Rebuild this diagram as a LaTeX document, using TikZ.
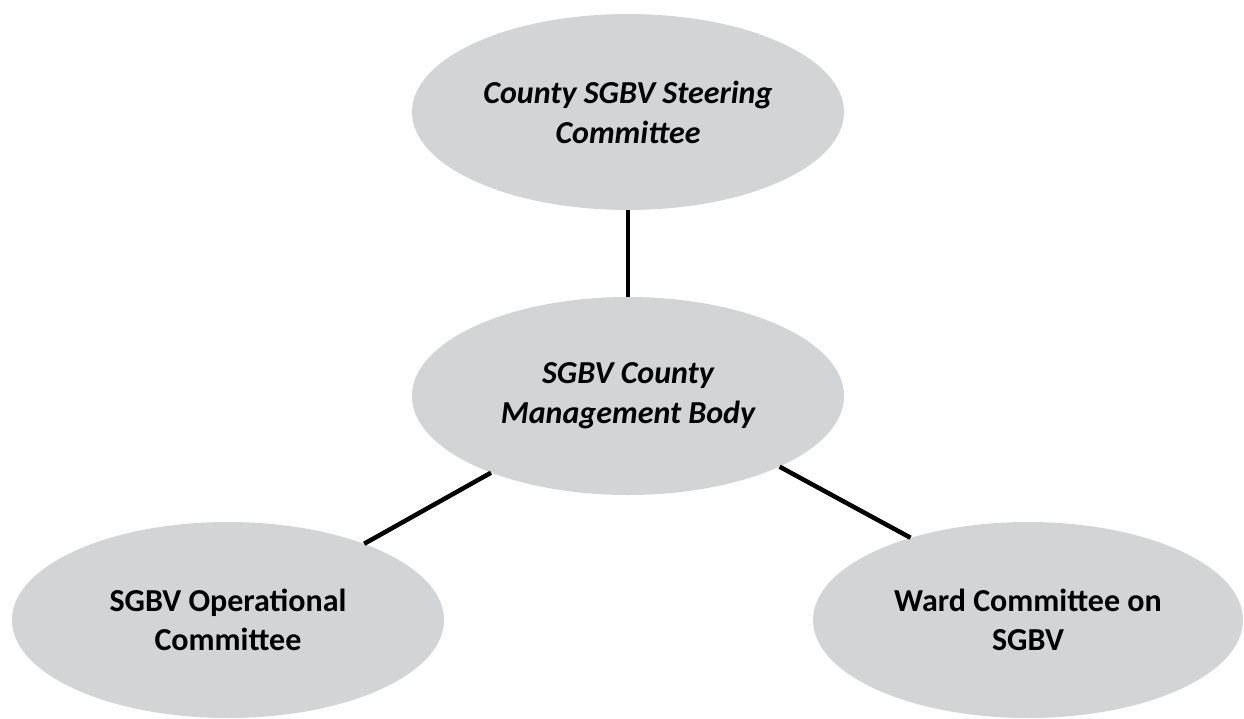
\documentclass[tikz,border=0pt]{standalone}
\usepackage{fontspec}
\setmainfont{Carlito}
\usetikzlibrary{shapes.geometric}
\definecolor{ellgray}{RGB}{211,212,214}
\tikzset{
  ell/.style={ellipse, fill=ellgray, draw=none, minimum width=432pt, minimum height=196pt,
    inner sep=0pt, align=center, font=\fontsize{32}{39}\selectfont\bfseries},
  ellit/.style={ell, font=\fontsize{32}{40}\selectfont\bfseries\itshape},
  link/.style={line width=4.5pt, black}
}
\begin{document}
\begin{tikzpicture}[x=1pt,y=-1pt]
\useasboundingbox (0,0) rectangle (1244,718);
\node[ellit] (top) at (628,112) {County SGBV Steering\\Committee};
\node[ellit, minimum height=198pt] (mid) at (628,396) {SGBV County\\Management Body};
\node[ell] (left) at (228,620) {SGBV Operational\\Committee};
\node[ell, minimum width=430pt] (right) at (1028,620) {Ward Committee on\\SGBV};
\draw[link] (top) -- (mid);
\draw[link] (mid) -- (left);
\draw[link] (mid.-25) -- (right.145);
\end{tikzpicture}
\end{document}
